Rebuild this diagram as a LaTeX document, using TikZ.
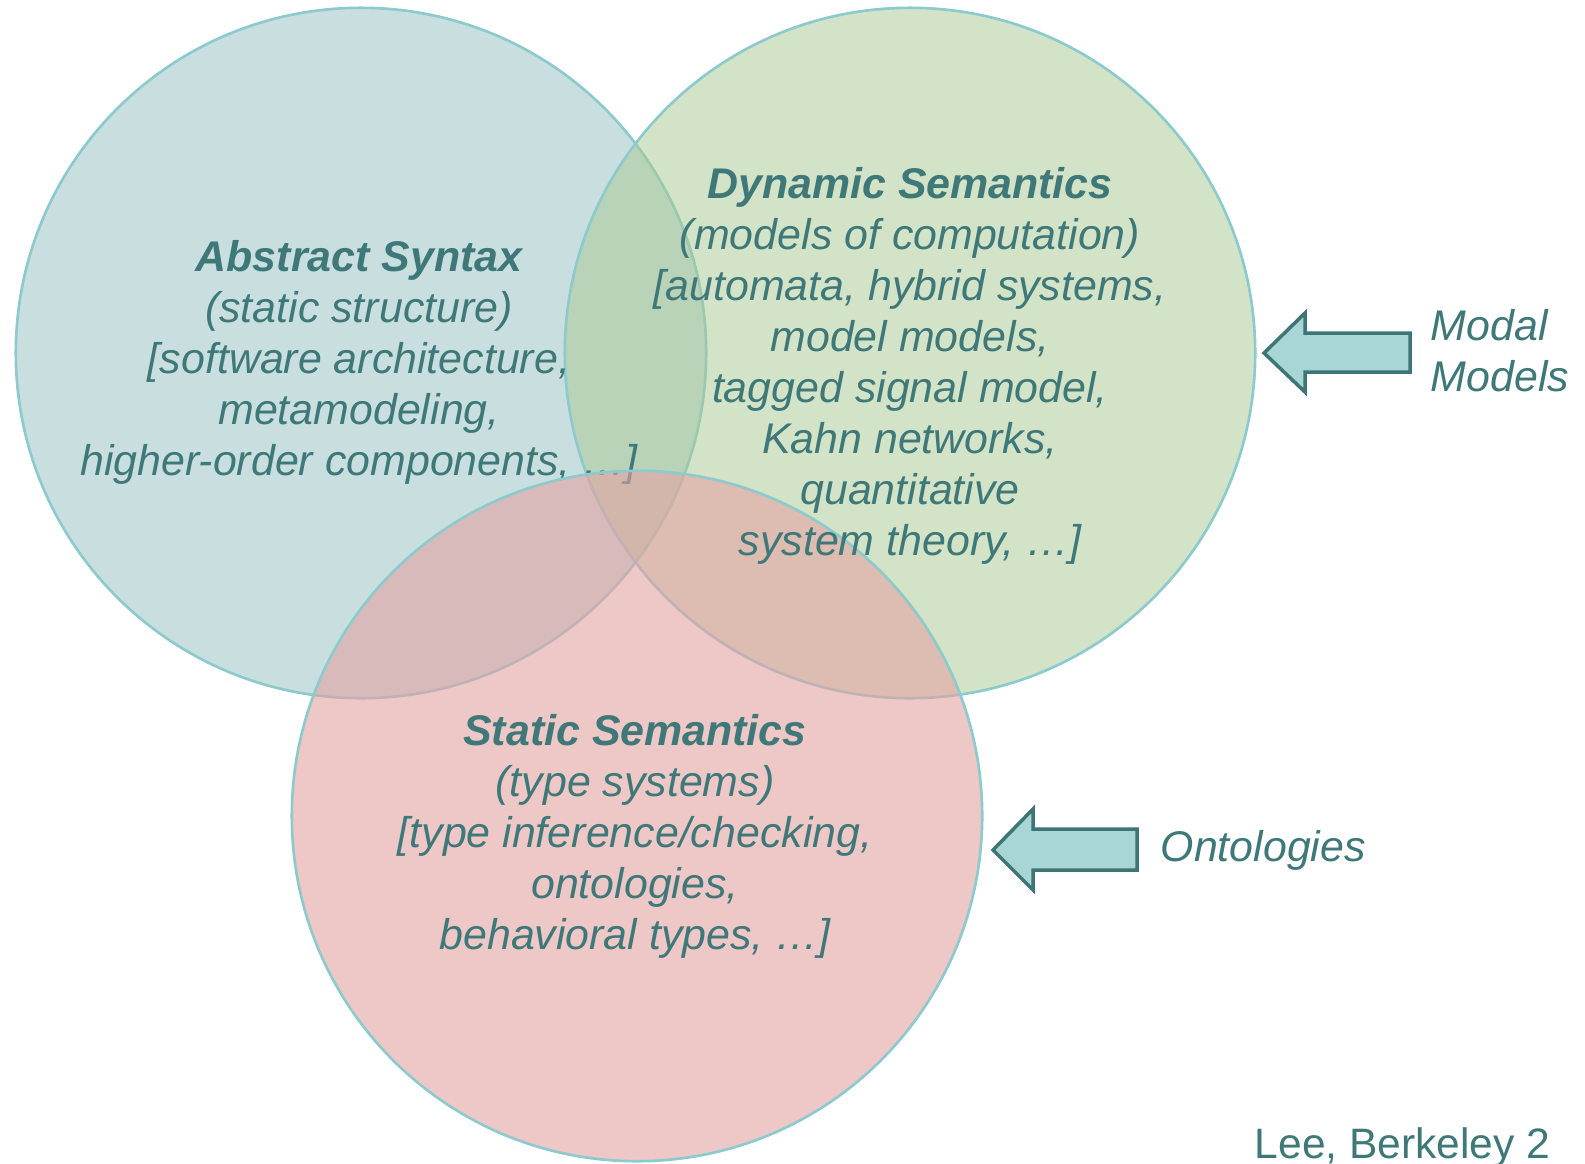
\documentclass[tikz,border=0pt]{standalone}
\usepackage{fontspec}
\setmainfont{Liberation Sans}
\definecolor{inktext}{RGB}{63,120,120}
\definecolor{rimline}{RGB}{140,202,206}
\definecolor{syntaxfill}{RGB}{201,222,222}
\definecolor{dynfill}{RGB}{169,201,145}
\definecolor{statfill}{RGB}{228,163,163}
\definecolor{arrowfill}{RGB}{168,213,213}
\definecolor{arrowline}{RGB}{62,117,117}
\begin{document}
\begin{tikzpicture}[x=0.01cm,y=-0.01cm,
  ring/.style={draw=rimline,line width=0.75pt},
  blocktext/.style={text=inktext,align=center,inner sep=0pt,
    font=\fontsize{12.2}{14.5}\selectfont\itshape},
  sidetext/.style={text=inktext,align=left,inner sep=0pt,
    font=\fontsize{12.2}{14.5}\selectfont\itshape},
  blockarrow/.style={fill=arrowfill,draw=arrowline,line width=1pt,line join=miter}]
\useasboundingbox (0,0) rectangle (1585,1163);
\fill[white] (0,0) rectangle (1585,1163);

% the three overlapping circles
\path[ring,fill=syntaxfill] (361,353) circle[radius=3.45cm];
\path[ring,fill=dynfill,fill opacity=0.5] (910,353) circle[radius=3.45cm];

\node[blocktext] (syntax) at (359,362)
  {\textbf{Abstract Syntax}\\(static structure)\\{[}software architecture,\\metamodeling,\\higher-order components, …{]}};

\path[ring,fill=statfill,fill opacity=0.6] (637,816) circle[radius=3.45cm];

\node[blocktext] (dynamic) at (910,366)
  {\textbf{Dynamic Semantics}\\(models of computation)\\{[}automata, hybrid systems,\\model models,\\tagged signal model,\\Kahn networks,\\quantitative\\system theory, …{]}};

\node[blocktext] (static) at (635,836)
  {\textbf{Static Semantics}\\(type systems)\\{[}type inference/checking,\\ontologies,\\behavioral types, …{]}};

% block arrows pointing at the circles
\draw[blockarrow] (1264,353) -- (1305,313) -- (1305,333) -- (1410,333)
  -- (1410,372) -- (1305,372) -- (1305,392) -- cycle;
\node[sidetext,anchor=west] (modal) at (1430,351) {Modal\\Models};

\draw[blockarrow] (993,850) -- (1033,809) -- (1033,829) -- (1137,829)
  -- (1137,870) -- (1033,870) -- (1033,890) -- cycle;
\node[sidetext,anchor=west] (onto) at (1160,850) {Ontologies};

\node[text=inktext,inner sep=0pt,anchor=base west,font=\fontsize{12.1}{14}\selectfont]
  (credit) at (1254,1158) {Lee, Berkeley 2};
\end{tikzpicture}
\end{document}
